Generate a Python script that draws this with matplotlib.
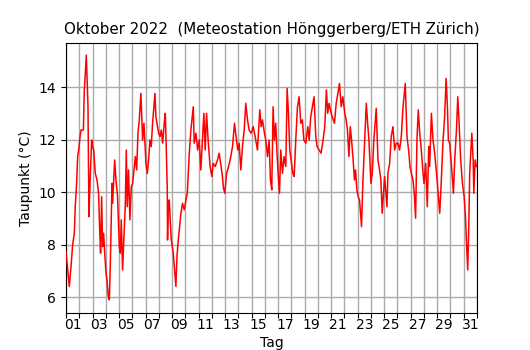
import matplotlib
matplotlib.use('Agg')
import matplotlib.pyplot as plt
import numpy as np

# Zeitpunkt als Tag des Monats (1.0 = 01.10. 00:00) und Taupunkt in °C
tag = [
    1.00, 1.13, 1.25, 1.38, 1.50, 1.63, 1.70, 1.80, 1.88, 1.96,
    2.06, 2.13, 2.31, 2.38, 2.46, 2.53, 2.58, 2.66, 2.73, 2.81,
    2.94, 3.01, 3.09, 3.21, 3.34, 3.46, 3.54, 3.61, 3.69, 3.76,
    3.84, 3.92, 4.02, 4.09, 4.19, 4.27, 4.34, 4.42, 4.47, 4.52,
    4.67, 4.77, 4.89, 5.02, 5.10, 5.17, 5.27, 5.37, 5.47, 5.55,
    5.62, 5.72, 5.82, 5.93, 6.03, 6.23, 6.33, 6.43, 6.53, 6.65,
    6.78, 6.88, 7.03, 7.13, 7.23, 7.33, 7.43, 7.53, 7.71, 7.78,
    7.91, 7.99, 8.09, 8.19, 8.29, 8.41, 8.49, 8.56, 8.64, 8.66,
    8.71, 8.79, 8.86, 8.94, 9.09, 9.19, 9.29, 9.37, 9.47, 9.57,
    9.67, 9.79, 9.92, 10.05, 10.15, 10.30, 10.42, 10.60, 10.67, 10.80,
    10.93, 11.05, 11.17, 11.40, 11.50, 11.60, 11.72, 11.87, 12.00, 12.10,
    12.25, 12.43, 12.55, 12.70, 12.80, 12.88, 12.98, 13.11, 13.26, 13.38,
    13.56, 13.71, 13.86, 13.96, 14.06, 14.19, 14.31, 14.44, 14.56, 14.69,
    14.81, 14.97, 15.12, 15.27, 15.44, 15.62, 15.72, 15.82, 15.97, 16.07,
    16.20, 16.32, 16.42, 16.52, 16.62, 16.72, 16.82, 16.93, 17.00, 17.10,
    17.20, 17.33, 17.45, 17.58, 17.68, 17.78, 17.88, 18.01, 18.11, 18.21,
    18.33, 18.46, 18.58, 18.71, 18.83, 18.94, 19.09, 19.24, 19.34, 19.46,
    19.71, 19.84, 19.94, 20.09, 20.24, 20.39, 20.52, 20.64, 20.74, 20.84,
    21.00, 21.08, 21.25, 21.38, 21.63, 21.76, 21.88, 22.03, 22.13, 22.23,
    22.34, 22.44, 22.54, 22.64, 22.76, 22.84, 22.94, 23.04, 23.14, 23.29,
    23.39, 23.49, 23.65, 23.75, 23.85, 24.00, 24.10, 24.22, 24.40, 24.53,
    24.65, 24.75, 24.85, 25.03, 25.21, 25.28, 25.41, 25.53, 25.66, 25.79,
    25.91, 26.04, 26.16, 26.29, 26.42, 26.59, 26.72, 26.84, 26.95, 27.05,
    27.17, 27.27, 27.37, 27.47, 27.57, 27.68, 27.80, 27.93, 28.00, 28.13,
    28.25, 28.36, 28.43, 28.56, 28.68, 28.81, 28.99, 29.19, 29.31, 29.44,
    29.56, 29.67, 29.77, 29.84, 29.94, 30.02, 30.12, 30.22, 30.32, 30.45,
    30.55, 30.65, 30.77, 30.90, 31.03, 31.13, 31.20, 31.30, 31.38, 31.45,
    31.50, 31.61, 31.71, 31.76, 31.86, 31.96,
]
taupunkt = [
    7.74, 7.04, 6.41, 7.17, 7.99, 8.44, 9.45, 10.34, 11.36, 11.61,
    12.12, 12.37, 12.37, 13.90, 14.53, 15.23, 14.53, 13.26, 9.07, 10.34,
    11.99, 11.74, 11.61, 10.72, 10.47, 9.96, 8.57, 7.68, 9.83, 7.93,
    8.44, 7.68, 6.91, 6.66, 6.03, 5.90, 7.17, 9.07, 10.34, 9.58,
    11.23, 10.47, 9.83, 7.93, 7.68, 8.95, 7.04, 8.31, 9.45, 11.61,
    9.45, 10.85, 8.95, 10.22, 10.34, 11.36, 10.85, 12.25, 12.76, 13.77,
    11.99, 12.63, 11.10, 10.72, 11.23, 11.99, 11.74, 12.63, 13.77, 12.88,
    12.50, 12.25, 12.12, 12.37, 11.87, 12.63, 13.01, 11.74, 10.09, 8.18,
    9.58, 9.71, 8.95, 8.18, 7.68, 7.04, 6.41, 7.55, 8.18, 8.69,
    9.20, 9.58, 9.33, 9.71, 9.96, 11.49, 12.37, 13.26, 11.87, 12.25,
    11.61, 11.99, 10.85, 13.01, 11.61, 13.01, 11.99, 10.98, 10.60, 11.10,
    10.98, 11.23, 11.49, 10.98, 10.60, 10.15, 9.96, 10.72, 10.98, 11.23,
    11.74, 12.63, 11.99, 11.61, 11.87, 10.85, 11.74, 12.37, 13.39, 12.76,
    12.37, 12.25, 12.50, 12.12, 11.61, 13.14, 12.50, 12.76, 12.25, 11.99,
    11.36, 11.99, 10.47, 10.09, 13.26, 11.99, 12.63, 11.36, 10.72, 9.96,
    11.61, 10.72, 11.36, 10.98, 13.96, 13.01, 11.61, 11.10, 10.72, 10.60,
    11.99, 13.26, 13.64, 12.63, 12.76, 11.99, 11.87, 12.50, 11.99, 12.88,
    13.64, 12.12, 11.74, 11.61, 11.49, 11.99, 12.50, 13.90, 13.01, 13.39,
    13.01, 12.88, 12.63, 13.39, 14.15, 13.26, 13.64, 13.01, 12.76, 12.37,
    11.36, 12.50, 11.99, 11.36, 10.47, 10.85, 10.09, 9.83, 9.71, 8.69,
    10.34, 11.49, 13.39, 12.63, 11.99, 10.34, 10.72, 11.99, 13.20, 11.23,
    10.85, 10.47, 9.20, 10.60, 9.45, 10.72, 11.10, 12.12, 12.50, 11.61,
    11.87, 11.87, 11.61, 12.12, 13.26, 14.15, 12.12, 11.61, 10.98, 10.72,
    10.47, 9.96, 9.01, 11.99, 13.14, 12.25, 11.61, 10.72, 10.34, 11.10,
    9.45, 11.74, 10.98, 13.01, 11.99, 11.49, 10.47, 9.20, 10.47, 11.99,
    12.88, 14.34, 13.26, 11.99, 11.87, 11.36, 10.72, 9.96, 11.23, 12.37,
    13.64, 12.63, 11.23, 10.34, 9.83, 9.07, 8.18, 7.04, 8.69, 10.72,
    11.23, 12.25, 11.23, 9.96, 11.23, 10.98,
]
y_ticks = [6, 8, 10, 12, 14]
tag_labels = ['%02d' % d for d in range(1, 32, 2)]

fig = plt.figure(figsize=(5.3, 3.5), dpi=100)
ax = fig.add_axes([0.1245, 0.1066, 0.7755, 0.7714])

ax.plot(tag, taupunkt, color='red', linewidth=1.1, zorder=3)

ax.set_xlim(1, 32)
ax.set_ylim(5.41, 15.70)
ax.set_yticks(y_ticks)

# Gitter an Tagesgrenzen, Beschriftung jeweils in Tagesmitte
ax.set_xticks(np.arange(1, 33))
ax.set_xticklabels([])
ax.set_xticks(np.arange(1.5, 32, 2), minor=True)
ax.set_xticklabels(tag_labels, minor=True)
ax.tick_params(axis='x', which='minor', length=0, pad=3.5, labelsize=10)
ax.tick_params(axis='both', which='major', labelsize=10)
ax.grid(True, which='major', color='#aaaaaa', linewidth=1.0, zorder=0)

ax.set_xlabel('Tag', fontsize=10, labelpad=3)
ax.set_ylabel('Taupunkt (°C)', fontsize=10)
ax.set_title('Oktober 2022  (Meteostation Hönggerberg/ETH Zürich)', fontsize=10.8)

plt.savefig('out.png', dpi=100, facecolor='white')
